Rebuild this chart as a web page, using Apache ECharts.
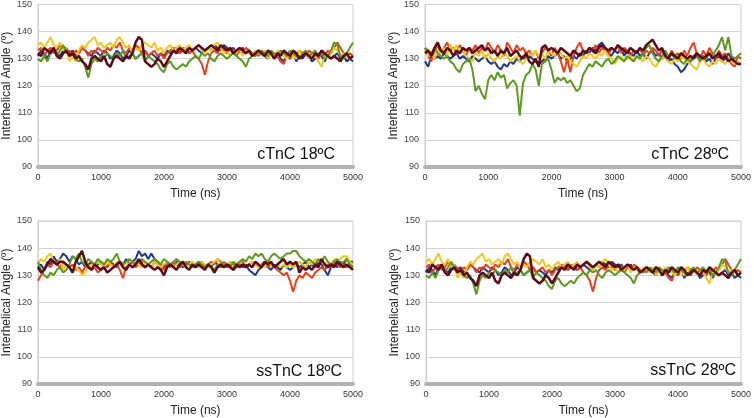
<!DOCTYPE html>
<html><head><meta charset="utf-8">
<script src="https://cdn.jsdelivr.net/npm/echarts@6/dist/echarts.min.js"></script>
<style>html,body{margin:0;padding:0;background:#fff}#c{width:754px;height:418px}</style>
</head><body><div id="c"></div>
<script>
const time = [0,50,100,150,200,250,300,350,400,450,500,550,600,650,700,750,800,850,900,950,1000,1050,1100,1150,1200,1250,1300,1350,1400,1450,1500,1550,1600,1650,1700,1750,1800,1850,1900,1950,2000,2050,2100,2150,2200,2250,2300,2350,2400,2450,2500,2550,2600,2650,2700,2750,2800,2850,2900,2950,3000,3050,3100,3150,3200,3250,3300,3350,3400,3450,3500,3550,3600,3650,3700,3750,3800,3850,3900,3950,4000,4050,4100,4150,4200,4250,4300,4350,4400,4450,4500,4550,4600,4650,4700,4750,4800,4850,4900,4950,5000];
const yTicks = [90,100,110,120,130,140,150];
const xTicks = [0,1000,2000,3000,4000,5000];
const seriesNames = ['blue','red','yellow','green','maroon'];
const panelLabels = ['cTnC 18ºC','cTnC 28ºC','ssTnC 18ºC','ssTnC 28ºC'];

// dataset A : cTnC 18ºC (identical traces are shown in ssTnC 28ºC panel)
const blueA = [131,133,132,130,133,134,132,131,133,134,132,133,131,132,134,133,132,131,133,132,131,133,132,130,131,133,132,130,131,133,132,130,131,132,133,131,132,131,130,132,131,133,132,133,134,132,133,134,132,133,134,133,132,133,134,133,135,134,133,135,134,133,134,132,133,134,132,133,132,131,133,132,131,130,132,131,132,130,129,131,130,132,129,131,130,132,131,129,130,132,131,129,131,130,131,132,130,131,129,130,129];
const redA = [133,134,131,133,134,132,133,135,134,132,133,131,133,132,134,133,131,133,132,134,133,132,134,133,135,134,136,133,132,134,133,135,134,132,133,131,132,133,131,132,130,132,133,134,133,132,134,133,132,133,131,130,128,124,129,132,133,132,134,133,132,134,133,131,133,132,134,133,132,131,133,132,131,133,132,130,131,129,128,131,130,132,131,133,132,131,133,132,131,130,132,131,133,132,134,136,134,132,131,132,131];
const yellowA = [135,136,134,136,138,135,134,136,133,134,129,131,129,133,135,134,136,137,138,135,136,134,135,136,134,137,138,136,134,135,132,134,133,135,136,135,134,136,133,134,132,134,135,133,134,135,133,134,135,133,134,135,133,132,134,133,135,136,134,132,133,131,133,132,134,131,133,132,131,133,132,131,133,130,132,131,133,132,131,130,132,131,130,133,131,132,130,132,131,129,127,131,130,132,134,133,131,132,131,130,131];
const greenA = [130,129,131,129,132,134,131,133,135,133,131,132,130,129,130,127,123,128,130,129,131,130,132,131,130,132,131,133,130,131,132,130,131,132,129,131,130,129,128,126,125,128,129,127,126,127,128,127,129,130,131,130,132,131,132,130,129,131,132,131,130,131,132,131,130,129,127,130,131,132,131,133,132,131,133,132,131,133,132,131,133,132,131,130,132,133,131,132,133,131,132,130,131,133,136,135,131,130,132,134,136];
const maroonA = [132,131,134,133,132,134,131,130,132,133,131,132,130,131,129,128,126,130,131,130,129,131,128,127,130,131,130,129,131,130,132,136,138,137,129,128,127,128,130,129,127,129,131,133,132,134,133,132,134,133,134,135,134,133,134,135,134,133,135,134,133,134,132,133,134,133,132,133,131,132,133,132,131,133,132,130,132,131,133,132,131,133,132,130,131,132,131,130,132,131,133,132,131,130,131,130,129,131,132,130,131];

// dataset B : cTnC 28ºC
const blueB = [129,127,131,130,131,130,132,131,130,131,132,130,131,130,129,131,130,129,130,131,129,128,129,127,126,128,127,129,128,130,129,131,130,131,130,129,128,129,130,131,130,131,132,130,131,129,130,131,130,132,131,133,132,134,133,135,136,134,132,131,133,132,134,131,133,132,131,133,131,132,130,132,133,131,132,130,131,129,130,128,127,125,126,128,129,131,132,130,131,129,130,128,130,131,129,130,132,130,129,128,128];
const redB = [134,131,129,133,135,132,134,136,133,134,132,135,133,131,134,133,135,132,134,133,136,134,132,135,133,131,136,134,132,135,133,134,132,133,131,133,130,132,134,133,131,134,132,129,125,130,125,131,134,136,133,132,134,133,135,132,134,133,131,134,133,135,132,134,133,131,133,132,134,131,133,132,134,133,131,133,132,130,133,131,132,130,133,131,134,136,132,130,133,131,134,132,130,133,131,132,130,128,127,131,130];
const yellowB = [133,131,132,130,133,132,134,131,135,133,135,132,133,131,130,129,132,131,133,130,132,130,129,131,130,132,131,129,130,131,129,128,130,132,131,133,131,132,130,133,132,131,133,132,130,131,129,128,127,129,131,130,132,131,130,132,131,133,131,130,128,130,131,129,130,131,129,131,130,129,131,130,128,127,129,130,131,129,128,130,129,131,130,129,128,127,126,129,130,128,127,129,128,130,129,128,130,129,128,129,128];
const greenB = [134,133,132,134,132,131,130,131,129,128,126,125,128,129,130,126,118,120,117,115,122,124,122,125,123,124,119,121,122,120,109,121,124,125,128,126,120,128,129,130,126,121,123,122,123,121,122,120,118,119,124,126,128,127,129,128,127,129,130,128,129,131,130,129,131,130,129,131,130,132,134,135,132,130,129,131,133,131,132,130,131,129,128,130,129,130,131,129,131,130,132,131,133,135,138,133,138,131,130,131,132];
const maroonB = [132,133,131,134,136,133,132,134,133,131,133,132,134,133,134,132,133,134,135,133,134,132,133,131,133,132,134,131,132,133,131,130,132,129,128,130,127,134,135,133,134,133,132,134,133,132,131,133,132,131,133,132,134,133,132,134,135,134,133,134,133,135,134,133,132,134,133,132,134,133,135,136,137,135,133,134,131,130,132,131,130,132,131,130,131,130,132,131,130,131,132,130,131,132,130,131,129,130,129,128,128];

// dataset C : ssTnC 18ºC
const blueC = [133,134,132,135,134,137,135,136,138,137,135,137,136,134,135,133,134,135,133,134,135,134,133,135,134,133,135,134,136,134,135,136,139,137,138,136,138,136,135,134,133,135,134,133,135,134,133,134,135,133,134,135,134,133,134,133,135,134,133,134,133,134,132,133,134,133,134,132,131,130,132,133,134,133,132,134,133,132,134,133,132,133,134,133,134,135,133,134,133,135,134,132,130,133,134,133,135,134,136,135,135];
const redC = [128,130,132,134,133,135,134,133,135,134,133,134,132,133,131,133,134,132,133,131,132,134,133,135,133,134,132,129,133,134,135,133,134,135,133,134,133,135,134,133,132,134,133,135,134,133,134,133,135,134,133,134,135,133,134,135,134,136,135,134,133,135,134,133,134,135,133,134,135,134,133,134,135,133,134,133,132,131,130,131,128,124,128,130,129,131,130,129,131,132,133,132,134,133,135,134,133,134,133,134,133];
const yellowC = [134,136,135,137,138,135,134,136,132,134,133,131,133,132,130,131,133,134,133,135,134,133,135,134,133,135,134,133,135,134,133,135,134,133,135,134,133,135,134,133,134,135,134,133,134,135,134,133,134,135,134,133,135,134,133,134,135,136,134,133,134,135,133,134,135,134,133,134,135,134,133,134,133,135,134,133,134,133,134,133,134,133,134,135,134,133,135,134,136,135,136,134,135,134,136,135,136,137,137,135,134];
const greenC = [135,132,130,129,131,130,132,133,131,132,134,137,136,138,135,134,136,135,134,136,135,134,136,135,136,138,135,134,135,136,135,134,135,136,135,134,135,136,135,134,136,135,134,135,136,135,134,135,134,133,134,135,134,133,134,133,132,134,133,135,134,133,135,134,135,136,135,137,136,138,137,138,136,135,137,138,137,136,137,138,138,139,139,137,136,135,136,135,134,136,135,137,135,134,135,136,134,135,136,134,133];
const maroonC = [133,131,132,134,136,135,134,135,135,134,133,131,135,137,139,135,133,132,134,133,132,133,131,132,133,134,135,133,132,134,133,134,136,134,133,134,133,132,133,132,130,133,134,133,132,134,135,133,132,134,133,134,133,132,134,133,131,133,134,133,134,133,132,134,133,134,133,134,133,135,134,133,135,134,135,133,134,135,136,134,135,134,135,131,133,132,133,132,134,133,136,134,133,134,133,135,134,133,134,133,132];

const panelData = [
  [blueA, redA, yellowA, greenA, maroonA],
  [blueB, redB, yellowB, greenB, maroonB],
  [blueC, redC, yellowC, greenC, maroonC],
  [blueA, redA, yellowA, greenA, maroonA]
];
const colors = ['#1f3a8c', '#e5421d', '#f2c81f', '#5e9a22', '#5a0b16'];
const widths = [2, 2, 2, 2, 2.5];

const grids = [
  {left: 34, top: 4, width: 319, height: 163},
  {left: 425, top: 4, width: 319, height: 163},
  {left: 34, top: 221, width: 319, height: 163},
  {left: 426, top: 221, width: 319, height: 163}
];
const FONT = "'Liberation Sans', Arial, sans-serif";

const option = {
  animation: false,
  backgroundColor: '#fff',
  grid: grids.map(g => Object.assign({show: true, borderColor: '#cfcfcf', borderWidth: 1, backgroundColor: 'transparent'}, g)),
  xAxis: grids.map((g, i) => ({
    type: 'value', gridIndex: i, min: xTicks[0], max: xTicks[xTicks.length - 1], interval: 1000,
    name: 'Time (ns)', nameLocation: 'middle', nameGap: 21,
    nameTextStyle: {fontFamily: FONT, fontSize: 12, color: '#222'},
    axisLine: {show: true, lineStyle: {color: '#b3b3b3', width: 4}},
    axisTick: {show: false},
    axisLabel: {fontFamily: FONT, fontSize: 9, color: '#333', margin: 6, formatter: v => String(v)},
    splitLine: {show: false}
  })),
  yAxis: grids.map((g, i) => ({
    type: 'value', gridIndex: i, min: yTicks[0], max: yTicks[yTicks.length - 1], interval: 10,
    name: 'Interhelical Angle (º)', nameLocation: 'middle', nameGap: (i % 2 === 0) ? 21 : 19,
    nameTextStyle: {fontFamily: FONT, fontSize: 12, color: '#222'},
    axisLine: {show: true, lineStyle: {color: '#cfcfcf', width: 1}},
    axisTick: {show: false},
    axisLabel: {fontFamily: FONT, fontSize: 9, color: '#444', margin: 6, formatter: v => String(v)},
    splitLine: {show: true, lineStyle: {color: '#d4d4d4', width: 1}}
  })),
  series: [],
  graphic: []
};

panelData.forEach((set, p) => {
  set.forEach((vals, s) => {
    option.series.push({
      type: 'line', name: seriesNames[s], xAxisIndex: p, yAxisIndex: p,
      data: vals.map((v, k) => [time[k], v]),
      showSymbol: false, symbol: 'none',
      lineStyle: {color: colors[s], width: widths[s]},
      itemStyle: {color: colors[s]},
      z: 2 + s
    });
  });
});

const labelPos = [[335, 155], [729, 155], [342, 372], [736, 371]];
panelLabels.forEach((t, p) => {
  option.graphic.push({
    type: 'text', x: labelPos[p][0], y: labelPos[p][1], z: 50,
    style: {text: t, fontFamily: FONT, fontSize: 16, fill: '#111', textAlign: 'right', textVerticalAlign: 'middle'}
  });
});

const chart = echarts.init(document.getElementById('c'), null, {renderer: 'canvas'});
chart.setOption(option);
</script></body></html>
